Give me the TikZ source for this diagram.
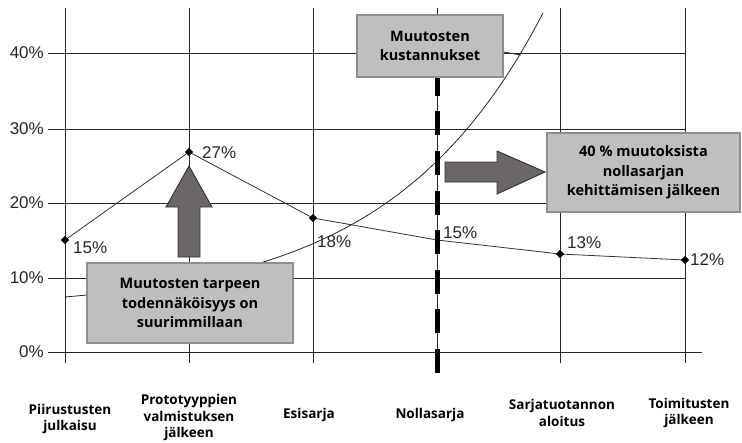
\documentclass[tikz,border=0pt]{standalone}
\usepackage{fontspec}
\setmainfont{Liberation Sans}
\newfontfamily\labelfont{Open Sans}[BoldFont={Open Sans Bold}]
\usetikzlibrary{shapes.geometric}

\definecolor{boxfill}{HTML}{BFBFBF}
\definecolor{boxedge}{HTML}{8E8E8E}
\definecolor{arrowfill}{HTML}{6B6767}
\definecolor{arrowedge}{HTML}{333333}

\tikzset{
  gridline/.style={line width=0.9pt, black!85},
  dataline/.style={line width=0.8pt, black!80},
  costline/.style={line width=0.8pt, black!85},
  datapoint/.style={diamond, fill=black, inner sep=0pt, minimum size=8.5pt},
  axislabel/.style={anchor=east, inner sep=0pt, font=\fontsize{17}{20}\selectfont, text=black!85},
  valuelabel/.style={anchor=west, inner sep=0pt, font=\fontsize{17}{20}\selectfont, text=black!85},
  phaselabel/.style={align=center, inner sep=0pt, font=\labelfont\bfseries\fontsize{13.5}{16.5}\selectfont},
  notebox/.style={draw=boxedge, line width=1.2pt, fill=boxfill, align=center, inner sep=0pt,
                  font=\labelfont\bfseries\fontsize{14.5}{19.5}\selectfont},
  blockarrow/.style={fill=arrowfill, draw=arrowedge, line width=0.9pt, line join=miter}
}

\begin{document}
\begin{tikzpicture}[x=1pt, y=-1pt]
\useasboundingbox (0,0) rectangle (742,442);

% vertical grid lines, one per phase
\foreach \gx in {65,189,313,437,560,685}
  \draw[gridline] (\gx,8) -- (\gx,363);

% horizontal grid lines with their tick stubs
\foreach \gy in {53,129,203,278}
  \draw[gridline] (48,\gy) -- (685,\gy);
\draw[gridline] (48,352) -- (702,352);

% percentage axis
\node[axislabel] (ax40) at (44,53) {40\%};
\node[axislabel] (ax30) at (44,129) {30\%};
\node[axislabel] (ax20) at (44,203) {20\%};
\node[axislabel] (ax10) at (44,278) {10\%};
\node[axislabel] (ax0)  at (44,352) {0\%};

% cost of changes: exponential growth
\draw[costline] plot[domain=65:543, samples=120, smooth] (\x, {297 - 13.3*(exp(0.0065*(\x-65))-1)});

% probability of change per phase
\coordinate (p1) at (65,240);
\coordinate (p2) at (189,152);
\coordinate (p3) at (313,218);
\coordinate (p4) at (437,240);
\coordinate (p5) at (560,254);
\coordinate (p6) at (685,260);
\draw[dataline] (p1) -- (p2) -- (p3) -- (p4) -- (p5) -- (p6);
\foreach \p in {p1,p2,p3,p5,p6}
  \node[datapoint] at (\p) {};

\node[valuelabel] (v1) at (73,248) {15\%};
\node[valuelabel] (v2) at (202,153) {27\%};
\node[valuelabel] (v3) at (317,242) {18\%};
\node[valuelabel] (v4) at (443,233) {15\%};
\node[valuelabel] (v5) at (567,243) {13\%};
\node[valuelabel] (v6) at (690,260) {12\%};

% zero-series milestone
\draw[line width=5pt, black, dash pattern=on 24pt off 15.6pt] (437,373) -- (437,77);

% block arrows
\draw[blockarrow] (189,166) -- (212,207) -- (200,207) -- (200,257) -- (178,257) -- (178,207) -- (166,207) -- cycle;
\draw[blockarrow] (545,172) -- (497,151) -- (497,162) -- (445,162) -- (445,182) -- (497,182) -- (497,194) -- cycle;

% explanatory boxes
\node[notebox, minimum width=146pt, minimum height=62pt] (cost) at (430,46)
  {Muutosten\\kustannukset};
\node[notebox, minimum width=193pt, minimum height=79pt] (late) at (643.5,172.5)
  {40 \% muutoksista\\nollasarjan\\kehittämisen jälkeen};
\node[notebox, minimum width=206pt, minimum height=80pt] (need) at (190,303)
  {Muutosten tarpeen\\todennäköisyys on\\suurimmillaan};

% leader from the cost box to its curve
\coordinate (costpt) at (521,55);
\draw[costline] (cost.east |- 0,52) -- (costpt);

% phase names
\node[phaselabel] (ph1) at (70,419) {Piirustusten\\julkaisu};
\node[phaselabel] (ph2) at (189,417.5) {Prototyyppien\\valmistuksen\\jälkeen};
\node[phaselabel] (ph3) at (309,415) {Esisarja};
\node[phaselabel] (ph4) at (430,415) {Nollasarja};
\node[phaselabel] (ph5) at (562,413) {Sarjatuotannon\\aloitus};
\node[phaselabel] (ph6) at (689,413) {Toimitusten\\jälkeen};
\end{tikzpicture}
\end{document}
